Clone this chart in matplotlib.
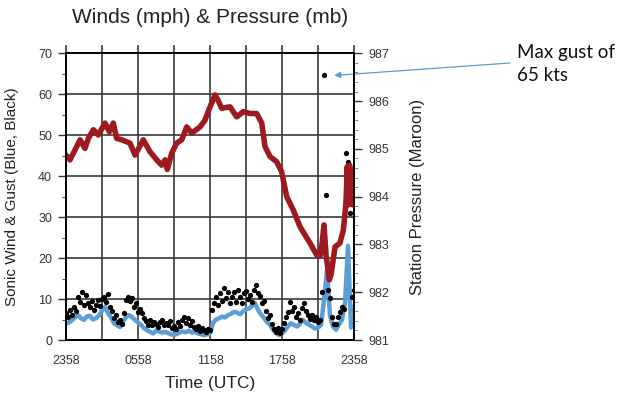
import numpy as np
import matplotlib
matplotlib.use("Agg")
import matplotlib.pyplot as plt

# sustained sonic wind (mph), every 15 min from 2358 UTC
wind_mph = [4.0, 4.3, 4.8, 5.5, 6.1, 5.3, 4.9, 5.8, 5.9, 5.0, 5.3, 6.0, 7.2, 8.1, 6.6, 5.5,
            4.1, 3.6, 3.2, 4.5, 5.6, 6.1, 5.6, 4.9, 4.3, 3.7, 2.9, 2.4, 2.0, 1.6, 2.3, 2.1,
            1.8, 2.0, 1.7, 1.4, 1.2, 1.5, 1.9, 2.1, 1.9, 2.3, 1.8, 2.0, 1.6, 1.4, 1.2, 1.4,
            1.6, 4.2, 5.0, 5.3, 5.7, 5.5, 6.1, 6.4, 6.9, 6.7, 6.3, 7.0, 7.5, 7.7, 8.3, 9.0,
            7.4, 6.2, 5.4, 4.4, 3.7, 2.6, 1.8, 1.2, 1.6, 2.4, 3.4, 4.1, 3.7, 3.3, 4.0, 4.9,
            4.2, 3.7, 3.3, 2.8, 3.0, 3.7, 9.8, 17.0, 6.0, 3.3, 2.5, 3.8, 4.9, 9.0, 23.0, 3.0,
            8.0]

# gusts (mph), every 10 min from 2358 UTC
gust_mph = [6.5, 5.5, 7.3, 6.2, 8.1, 7.0, 10.6, 9.2, 11.8, 8.5, 11.0, 9.0, 8.0, 9.5, 7.3,
            8.6, 9.8, 8.4, 10.0, 10.6, 9.4, 11.2, 8.0, 7.0, 5.3, 6.0, 4.5, 5.0, 4.0, 6.5,
            9.8, 10.6, 9.5, 10.2, 8.0, 9.0, 6.9, 7.5, 6.5, 5.3, 4.6, 3.7, 4.8, 3.7, 4.5,
            4.0, 3.2, 4.5, 4.9, 3.6, 4.2, 3.6, 4.6, 3.0, 3.4, 2.8, 4.4, 3.5, 4.9, 5.5,
            4.2, 5.3, 3.6, 4.6, 3.3, 2.6, 3.4, 2.2, 3.0, 2.4, 2.0, 2.6, 2.4, 7.3, 9.0,
            10.6, 8.5, 11.4, 9.6, 12.7, 10.2, 11.8, 9.0, 10.6, 11.7, 9.4, 12.2, 10.6, 9.1, 11.4,
            12.0, 10.0, 11.0, 9.3, 12.2, 13.4, 11.5, 10.8, 9.0, 9.6, 7.0, 5.3, 6.0, 4.0, 2.8,
            2.0, 3.0, 1.8, 2.6, 4.2, 5.5, 6.9, 9.3, 7.0, 8.0, 5.6, 6.6, 5.0, 7.8, 9.0,
            7.0, 6.0, 5.1, 6.0, 4.9, 5.6, 4.5, 4.9, 11.8, 64.6, 35.5, 12.2, 10.2, 5.5, 4.0,
            3.8, 5.5, 6.9, 8.0, 7.5, 45.7, 43.5, 30.9, 10.6, 12.2]

# station pressure (mb) read at these hours after 2358 UTC
pres_hours = [0.0, 0.33, 0.75, 1.17, 1.58, 1.86, 2.28, 2.69, 3.25, 3.61, 3.94, 4.22, 4.64,
              5.33, 5.75, 6.44, 7.0, 7.56, 7.97, 8.25, 8.44, 8.81, 9.22, 9.64, 10.06, 10.47,
              11.17, 11.58, 12.0, 12.42, 12.67, 12.97, 13.67, 14.22, 14.78, 15.33, 15.89,
              16.31, 16.58, 17.0, 17.56, 17.97, 18.39, 18.94, 19.5, 20.33, 20.89, 21.17,
              21.33, 21.5, 21.67, 21.94, 22.08, 22.42, 22.83, 23.11, 23.33, 23.44, 23.54,
              23.63, 23.71, 23.79, 23.88, 24.0]
pres_mb = [984.87, 984.77, 984.98, 985.19, 985.01, 985.22, 985.40, 985.29, 985.54, 985.36,
           985.54, 985.22, 985.19, 985.12, 984.87, 985.19, 984.94, 984.77, 984.66, 984.77,
           984.57, 984.91, 985.12, 985.19, 985.46, 985.33, 985.46, 985.60, 985.88, 986.13,
           986.02, 985.85, 985.88, 985.67, 985.78, 985.74, 985.74, 985.54, 985.05, 984.84,
           984.73, 984.52, 984.00, 983.72, 983.37, 983.03, 982.78, 982.76, 983.00, 983.41,
           982.78, 982.26, 982.36, 982.95, 983.03, 983.30, 983.86, 984.63, 983.83, 984.66,
           983.93, 984.56, 983.83, 984.33]

tick_hours = [0, 6, 12, 18, 24]
tick_labels = ["2358", "0558", "1158", "1758", "2358"]

wind_hours = np.arange(len(wind_mph)) * 0.25
gust_hours = np.arange(len(gust_mph)) / 6.0

plt.rcParams["font.family"] = ["Liberation Sans", "DejaVu Sans"]
fig = plt.figure(figsize=(6.27, 3.94), dpi=100)
ax = fig.add_axes([0.1053, 0.137, 0.4593, 0.7277])
ax2 = ax.twinx()

grid_col = "#3a3a3a"
ax.plot(wind_hours, wind_mph, color="#5b9fd6", lw=3.2, solid_joinstyle="round")
ax.plot(gust_hours, gust_mph, "o", color="black", ms=3.8, mec="none")
ax2.plot(pres_hours, pres_mb, color="#9e1a1e", lw=4.0, solid_joinstyle="round")

ax.set_xlim(0, 24)
ax.set_ylim(0, 70)
ax2.set_ylim(981, 987)
ax.set_xticks(np.arange(0, 25, 3), minor=True)
ax.set_xticks(tick_hours)
ax.set_xticklabels(tick_labels)
ax.set_yticks(np.arange(0, 71, 10))
ax.set_yticks(np.arange(5, 70, 10), minor=True)
ax2.set_yticks(np.arange(981, 988, 1))
ax2.set_yticks(np.arange(981, 987, 0.2), minor=True)

ax.grid(True, which="major", color=grid_col, lw=1.2)
ax.grid(True, which="minor", axis="x", color=grid_col, lw=1.2)
for a in (ax, ax2):
    for s in a.spines.values():
        s.set_color("black")
        s.set_linewidth(1.2)

# ticks stick out above the frame only
ax.tick_params(axis="x", which="both", length=6, width=1.2, direction="out", pad=5,
               labelsize=9, colors="#333333", color=grid_col,
               top=True, bottom=False, labeltop=False, labelbottom=True)
ax.tick_params(axis="y", which="major", length=6, width=1.0, pad=4, labelsize=9,
               colors="#333333", direction="out")
ax.tick_params(axis="y", which="minor", length=3, width=0.8, direction="out", colors="#555555")
ax2.tick_params(axis="y", which="major", length=6, width=1.0, pad=4, labelsize=9,
                colors="#333333", direction="out")
ax2.tick_params(axis="y", which="minor", length=3, width=0.6, direction="out", colors="#777777")

ax.set_title("Winds (mph) & Pressure (mb)", fontsize=15, color="#222222", pad=22)
ax.set_xlabel("Time (UTC)", fontsize=12.5, color="#222222", va="center")
ax.xaxis.set_label_coords(0.5, -0.15)
ax.set_ylabel("Sonic Wind & Gust (Blue, Black)", fontsize=11, color="#222222")
ax.yaxis.set_label_coords(-0.165, 0.5)
ax2.set_ylabel("Station Pressure (Maroon)", fontsize=12, color="#222222", rotation=90)
ax2.yaxis.set_label_coords(1.195, 0.5)

# annotation for the max gust
ax.annotate("", xy=(gust_hours[129] + 0.85, gust_mph[129]), xycoords="data",
            xytext=(510 / 627, 1 - 63 / 394), textcoords="figure fraction",
            arrowprops=dict(arrowstyle="-|>", color="#5b9bd5", lw=0.9,
                            mutation_scale=9, shrinkA=0, shrinkB=0))
fig.text(517 / 627, 1 - 64 / 394, "Max gust of\n65 kts", family=["Lato", "DejaVu Sans"],
         fontsize=13.5, va="center", ha="left", color="#111111", linespacing=1.45)

fig.savefig("out.png", dpi=100)
